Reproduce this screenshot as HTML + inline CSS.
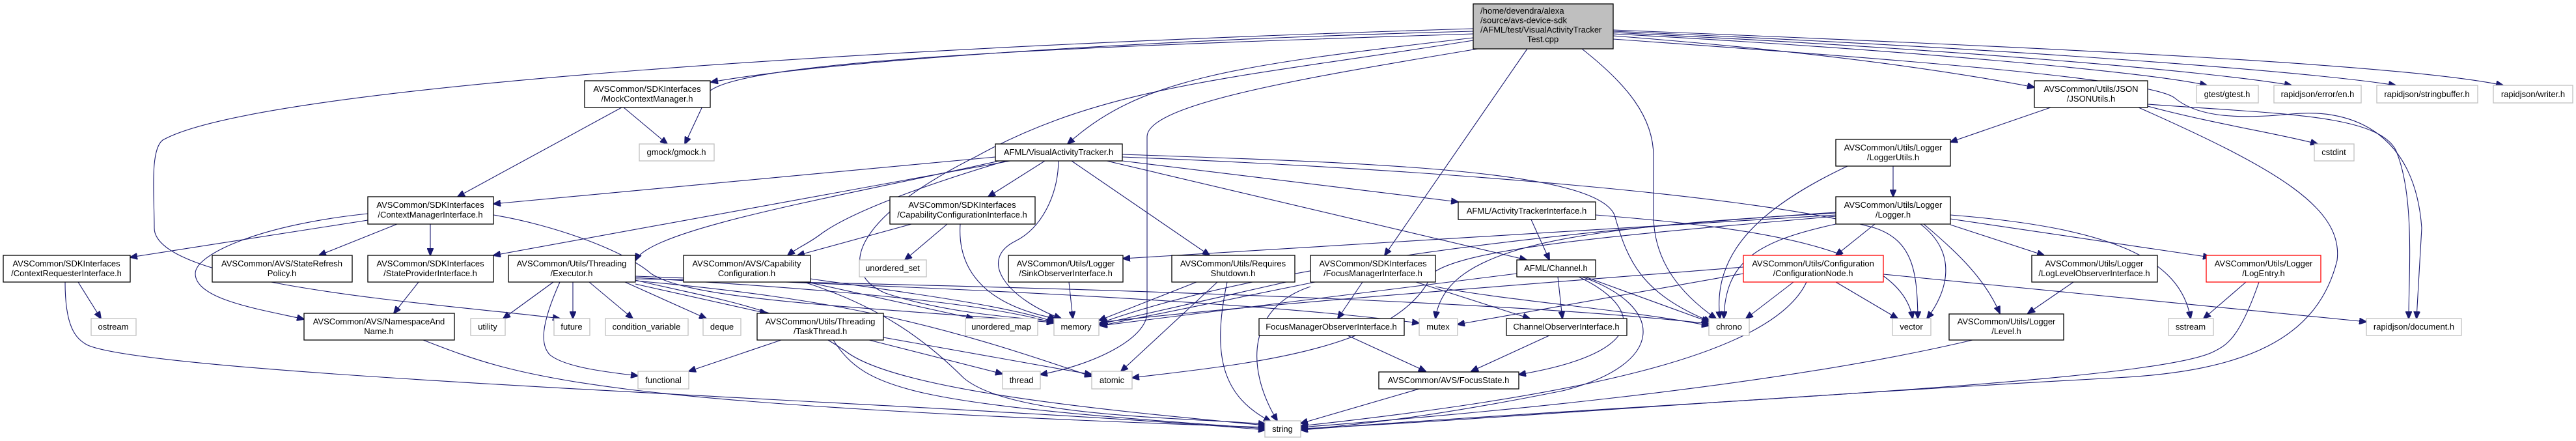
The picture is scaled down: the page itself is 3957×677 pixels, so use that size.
<!DOCTYPE html>
<html><head><meta charset="utf-8"><style>
html,body{margin:0;padding:0;background:#fff;width:3957px;height:677px;overflow:hidden}
svg{display:block}
text{font-family:"Liberation Sans",Arial,sans-serif;font-size:13px;fill:#000}
.n{fill:#fff;stroke:#000;stroke-width:1.3}
.g{fill:#fff;stroke:#bfbfbf;stroke-width:1.3}
.r{fill:#fff;stroke:#ff0000;stroke-width:1.3}
.e{fill:none;stroke:#191970;stroke-width:1.1;marker-end:url(#a)}
</style></head><body>
<svg width="3957" height="677" viewBox="0 0 3957 677" xmlns="http://www.w3.org/2000/svg">
<defs><marker id="a" markerUnits="userSpaceOnUse" markerWidth="12" markerHeight="10" refX="11" refY="5" orient="auto"><path d="M0,0 L12,5 L0,10 z" fill="#191970" stroke="#191970"/></marker></defs>

<g>
<!-- root edges -->
<path class="e" d="M2263,48 C1800,60 1300,90 1092,126"/>
<path class="e" d="M2263,52 C1700,70 1150,90 1090,140 L1052,221"/>
<path class="e" d="M2263,44 C1400,70 400,130 250,215 C230,230 237,300 237,350 C237,440 700,468 860,489"/>
<path class="e" d="M2263,58 C1900,100 1750,120 1640,221"/>
<path class="e" d="M2270,75 C2000,120 1762,160 1762,210 L1762,480 C1762,520 1680,560 1598,575"/>
<path class="e" d="M2263,62 C1900,120 1700,130 1500,240 C1300,340 1290,420 1360,450 C1450,480 1560,488 1620,493"/>
<path class="e" d="M2346,75 L2127,392"/>
<path class="e" d="M2430,75 C2500,130 2540,180 2540,240 L2540,330 C2540,400 2580,450 2636,489"/>
<path class="e" d="M2478,55 C2800,80 3000,110 3125,134"/>
<path class="e" d="M2478,52 C2900,75 3300,110 3390,131"/>
<path class="e" d="M2478,50 C3000,75 3400,110 3520,131"/>
<path class="e" d="M2478,48 C3100,75 3550,110 3680,131"/>
<path class="e" d="M2478,46 C3200,75 3700,100 3845,131"/>
<path class="e" d="M2478,60 C2900,90 3300,120 3340,150 C3370,175 3420,185 3520,175 C3620,165 3710,210 3720,350 L3712,489"/>
<!-- Mock -->
<path class="e" d="M958,165 L1025,221"/>
<path class="e" d="M955,165 L703,302"/>
<!-- VAT -->
<path class="e" d="M1529,241 L758,313"/>
<path class="e" d="M1605,247 L1518,302"/>
<path class="e" d="M1552,247 L758,392"/>
<path class="e" d="M1535,247 C1300,300 1000,350 976,400"/>
<path class="e" d="M1545,247 C1400,290 1300,330 1260,360 C1240,375 1225,380 1210,392"/>
<path class="e" d="M1626,247 C1625,300 1600,350 1560,370 C1500,400 1550,460 1630,489"/>
<path class="e" d="M1646,247 L1858,392"/>
<path class="e" d="M1724,247 L2240,310"/>
<path class="e" d="M1700,247 L2345,399"/>
<path class="e" d="M1724,237 C2100,250 2450,260 2480,330 C2500,400 2520,450 2628,494"/>
<path class="e" d="M1724,241 C2200,260 2700,300 2880,350 C2940,370 2945,420 2946,489"/>
<!-- CMI -->
<path class="e" d="M565,338 L200,395"/>
<path class="e" d="M610,344 L490,392"/>
<path class="e" d="M661,344 L661,392"/>
<path class="e" d="M565,328 C400,345 300,390 300,420 C300,460 400,475 467,490"/>
<path class="e" d="M758,330 C850,345 960,385 1000,420 C1060,460 1300,470 1619,495"/>
<!-- CRI -->
<path class="e" d="M120,433 L155,489"/>
<path class="e" d="M100,433 C100,500 115,520 135,530 C250,580 1500,620 1944,660"/>
<path class="e" d="M643,433 L605,481"/>
<path class="e" d="M650,522 C800,580 900,620 1944,656"/>
<!-- Executor -->
<path class="e" d="M850,433 L773,489"/>
<path class="e" d="M880,433 L880,489"/>
<path class="e" d="M905,433 L972,489"/>
<path class="e" d="M860,433 C830,500 830,530 845,545 C870,565 940,572 980,577"/>
<path class="e" d="M960,433 L1085,489"/>
<path class="e" d="M976,436 L1178,481"/>
<path class="e" d="M976,426 C1200,440 1500,460 1619,496"/>
<path class="e" d="M976,424 C1400,440 1900,460 2180,496"/>
<path class="e" d="M976,428 C1600,440 2300,460 2625,497"/>
<path class="e" d="M976,431 C1300,460 1450,500 1677,578"/>
<path class="e" d="M976,430 C1100,460 1200,470 1300,540 C1380,600 1700,630 1944,653"/>
<!-- TaskThread -->
<path class="e" d="M1200,522 L1058,570"/>
<path class="e" d="M1335,522 L1540,574"/>
<path class="e" d="M1357,518 L1677,575"/>
<path class="e" d="M1280,522 C1330,600 1400,620 1944,658"/>
<!-- CapConf -->
<path class="e" d="M1240,433 L1495,489"/>
<path class="e" d="M1245,428 C1400,450 1550,470 1619,494"/>
<path class="e" d="M1235,433 C1350,470 1420,520 1480,580 C1550,640 1800,640 1944,651"/>
<!-- CCI -->
<path class="e" d="M1400,344 L1225,392"/>
<path class="e" d="M1455,344 L1390,399"/>
<path class="e" d="M1475,344 C1470,420 1520,470 1622,489"/>
<!-- Sink, RS -->
<path class="e" d="M1642,433 L1648,489"/>
<path class="e" d="M1838,433 L1688,492"/>
<path class="e" d="M1870,433 L1722,570"/>
<path class="e" d="M1885,433 C1860,550 1880,610 1952,647"/>
<path class="e" d="M1989,430 L1688,498"/>
<!-- FMI -->
<path class="e" d="M2093,433 L2055,489"/>
<path class="e" d="M2175,433 L2350,489"/>
<path class="e" d="M2020,433 L1690,500"/>
<path class="e" d="M2013,440 C1920,470 1910,560 1962,646"/>
<path class="e" d="M2205,440 C2300,460 2500,475 2625,500"/>
<!-- Channel -->
<path class="e" d="M2393,425 L2400,489"/>
<path class="e" d="M2425,425 C2520,470 2540,540 2333,575"/>
<path class="e" d="M2430,425 C2560,470 2560,560 2400,600 C2200,640 2100,650 1998,660"/>
<path class="e" d="M2330,420 L1690,500"/>
<path class="e" d="M2435,425 L2625,494"/>
<!-- ATI -->
<path class="e" d="M2352,337 L2380,399"/>
<path class="e" d="M2451,330 C2700,350 2920,380 2938,489"/>
<!-- FMOI, COI, FS -->
<path class="e" d="M2070,515 L2190,570"/>
<path class="e" d="M2380,515 L2260,570"/>
<path class="e" d="M2180,597 L1998,650"/>
<!-- JSON -->
<path class="e" d="M3150,165 L2996,218"/>
<path class="e" d="M3299,163 C3400,190 3500,205 3560,221"/>
<path class="e" d="M3299,160 C3500,175 3650,175 3680,230 C3710,300 3700,420 3700,489"/>
<path class="e" d="M3285,165 C3500,260 3600,320 3590,400 C3560,520 3450,570 3250,580 C2700,610 2200,650 1998,658"/>
<!-- LoggerUtils -->
<path class="e" d="M2908,255 L2908,302"/>
<path class="e" d="M2838,255 C2700,320 2630,390 2642,489"/>
<!-- Logger -->
<path class="e" d="M2880,344 L2820,392"/>
<path class="e" d="M2820,344 C2700,370 2650,400 2648,489"/>
<path class="e" d="M2950,344 C3010,390 2990,450 2960,489"/>
<path class="e" d="M2996,345 L3140,392"/>
<path class="e" d="M2996,336 L3395,395"/>
<path class="e" d="M2955,344 C3010,390 3050,430 3072,481"/>
<path class="e" d="M2996,330 C3250,350 3350,400 3365,489"/>
<path class="e" d="M2820,330 L1725,397"/>
<path class="e" d="M2820,327 C2400,350 2220,380 2205,489"/>
<path class="e" d="M2820,332 C2500,360 2250,380 2200,420 C2150,540 1900,560 1739,580"/>
<path class="e" d="M2820,326 C2300,360 1900,420 1690,496"/>
<!-- ConfNode -->
<path class="e" d="M2755,433 L2682,489"/>
<path class="e" d="M2820,433 L2915,489"/>
<path class="e" d="M2678,420 L2239,498"/>
<path class="e" d="M2678,410 C2300,440 1900,470 1690,495"/>
<path class="e" d="M2893,421 L3635,494"/>
<path class="e" d="M2775,433 C2720,550 2400,610 1998,654"/>
<!-- Log level etc -->
<path class="e" d="M3185,433 L3115,481"/>
<path class="e" d="M3450,433 L3385,489"/>
<path class="e" d="M3470,433 C3440,520 3420,530 3400,540 C3300,590 2500,620 1998,660"/>
<path class="e" d="M3030,522 C2700,600 2200,640 1998,656"/>
</g>

<!-- nodes -->
<rect x="2263" y="6" width="215" height="69" fill="#bfbfbf" stroke="#000" stroke-width="1.3"/>
<text x="2274" y="21">/home/devendra/alexa</text>
<text x="2274" y="35.5">/source/avs-device-sdk</text>
<text x="2274" y="50">/AFML/test/VisualActivityTracker</text>
<text x="2370" y="64.5" text-anchor="middle">Test.cpp</text>

<g text-anchor="middle">
<rect class="n" x="898" y="124" width="193" height="41"/><text x="994" y="141">AVSCommon/SDKInterfaces</text><text x="994" y="156">/MockContextManager.h</text>
<rect class="n" x="3125" y="124" width="174" height="41"/><text x="3212" y="141">AVSCommon/Utils/JSON</text><text x="3212" y="156">/JSONUtils.h</text>
<rect class="g" x="3374" y="131" width="95" height="27"/><text x="3421" y="149">gtest/gtest.h</text>
<rect class="g" x="3493" y="131" width="134" height="27"/><text x="3560" y="149">rapidjson/error/en.h</text>
<rect class="g" x="3651" y="131" width="155" height="27"/><text x="3728" y="149">rapidjson/stringbuffer.h</text>
<rect class="g" x="3830" y="131" width="122" height="27"/><text x="3891" y="149">rapidjson/writer.h</text>

<rect class="g" x="982" y="221" width="115" height="26"/><text x="1039" y="238">gmock/gmock.h</text>
<rect class="n" x="1529" y="221" width="195" height="26"/><text x="1626" y="238">AFML/VisualActivityTracker.h</text>
<rect class="g" x="3555" y="221" width="61" height="26"/><text x="3585" y="238">cstdint</text>
<rect class="n" x="2820" y="214" width="176" height="41"/><text x="2908" y="231">AVSCommon/Utils/Logger</text><text x="2908" y="246">/LoggerUtils.h</text>

<rect class="n" x="565" y="302" width="193" height="42"/><text x="661" y="319">AVSCommon/SDKInterfaces</text><text x="661" y="334">/ContextManagerInterface.h</text>
<rect class="n" x="1367" y="302" width="223" height="42"/><text x="1478" y="319">AVSCommon/SDKInterfaces</text><text x="1478" y="334">/CapabilityConfigurationInterface.h</text>
<rect class="n" x="2240" y="310" width="211" height="27"/><text x="2345" y="328">AFML/ActivityTrackerInterface.h</text>
<rect class="n" x="2820" y="302" width="176" height="42"/><text x="2908" y="319">AVSCommon/Utils/Logger</text><text x="2908" y="334">/Logger.h</text>

<rect class="n" x="5" y="392" width="195" height="41"/><text x="102" y="409">AVSCommon/SDKInterfaces</text><text x="102" y="424">/ContextRequesterInterface.h</text>
<rect class="n" x="326" y="392" width="215" height="41"/><text x="433" y="409">AVSCommon/AVS/StateRefresh</text><text x="433" y="424">Policy.h</text>
<rect class="n" x="565" y="392" width="193" height="41"/><text x="661" y="409">AVSCommon/SDKInterfaces</text><text x="661" y="424">/StateProviderInterface.h</text>
<rect class="n" x="781" y="392" width="195" height="41"/><text x="878" y="409">AVSCommon/Utils/Threading</text><text x="878" y="424">/Executor.h</text>
<rect class="n" x="1050" y="392" width="195" height="41"/><text x="1147" y="409">AVSCommon/AVS/Capability</text><text x="1147" y="424">Configuration.h</text>
<rect class="g" x="1320" y="399" width="103" height="26"/><text x="1371" y="416">unordered_set</text>
<rect class="n" x="1549" y="392" width="176" height="41"/><text x="1637" y="409">AVSCommon/Utils/Logger</text><text x="1637" y="424">/SinkObserverInterface.h</text>
<rect class="n" x="1800" y="392" width="189" height="41"/><text x="1894" y="409">AVSCommon/Utils/Requires</text><text x="1894" y="424">Shutdown.h</text>
<rect class="n" x="2013" y="392" width="192" height="41"/><text x="2109" y="409">AVSCommon/SDKInterfaces</text><text x="2109" y="424">/FocusManagerInterface.h</text>
<rect class="n" x="2330" y="399" width="121" height="26"/><text x="2390" y="416">AFML/Channel.h</text>
<rect class="r" x="2678" y="392" width="215" height="41"/><text x="2785" y="409">AVSCommon/Utils/Configuration</text><text x="2785" y="424">/ConfigurationNode.h</text>
<rect class="n" x="3121" y="392" width="193" height="41"/><text x="3217" y="409">AVSCommon/Utils/Logger</text><text x="3217" y="424">/LogLevelObserverInterface.h</text>
<rect class="r" x="3389" y="392" width="176" height="41"/><text x="3477" y="409">AVSCommon/Utils/Logger</text><text x="3477" y="424">/LogEntry.h</text>

<rect class="g" x="140" y="489" width="69" height="26"/><text x="174" y="506">ostream</text>
<rect class="n" x="467" y="481" width="231" height="41"/><text x="582" y="498">AVSCommon/AVS/NamespaceAnd</text><text x="582" y="513">Name.h</text>
<rect class="g" x="723" y="489" width="53" height="26"/><text x="749" y="506">utility</text>
<rect class="g" x="851" y="489" width="55" height="26"/><text x="878" y="506">future</text>
<rect class="g" x="930" y="489" width="127" height="26"/><text x="993" y="506">condition_variable</text>
<rect class="g" x="1080" y="489" width="58" height="26"/><text x="1109" y="506">deque</text>
<rect class="n" x="1163" y="481" width="194" height="41"/><text x="1260" y="498">AVSCommon/Utils/Threading</text><text x="1260" y="513">/TaskThread.h</text>
<rect class="g" x="1483" y="489" width="111" height="26"/><text x="1538" y="506">unordered_map</text>
<rect class="g" x="1619" y="489" width="69" height="26"/><text x="1653" y="506">memory</text>
<rect class="n" x="1934" y="489" width="223" height="26"/><text x="2045" y="506">FocusManagerObserverInterface.h</text>
<rect class="g" x="2180" y="489" width="59" height="26"/><text x="2209" y="506">mutex</text>
<rect class="n" x="2314" y="489" width="185" height="26"/><text x="2406" y="506">ChannelObserverInterface.h</text>
<rect class="g" x="2625" y="489" width="62" height="26"/><text x="2656" y="506">chrono</text>
<rect class="g" x="2907" y="489" width="59" height="26"/><text x="2936" y="506">vector</text>
<rect class="n" x="2994" y="482" width="176" height="40"/><text x="3082" y="498">AVSCommon/Utils/Logger</text><text x="3082" y="513">/Level.h</text>
<rect class="g" x="3331" y="489" width="69" height="26"/><text x="3365" y="506">sstream</text>
<rect class="g" x="3635" y="489" width="146" height="26"/><text x="3708" y="506">rapidjson/document.h</text>

<rect class="g" x="980" y="570" width="78" height="27"/><text x="1019" y="588">functional</text>
<rect class="g" x="1540" y="570" width="58" height="27"/><text x="1569" y="588">thread</text>
<rect class="g" x="1677" y="570" width="62" height="27"/><text x="1708" y="588">atomic</text>
<rect class="n" x="2118" y="571" width="215" height="26"/><text x="2225" y="588">AVSCommon/AVS/FocusState.h</text>

<rect class="g" x="1943" y="646" width="55" height="25"/><text x="1970" y="663">string</text>
</g>
</svg>
</body></html>
